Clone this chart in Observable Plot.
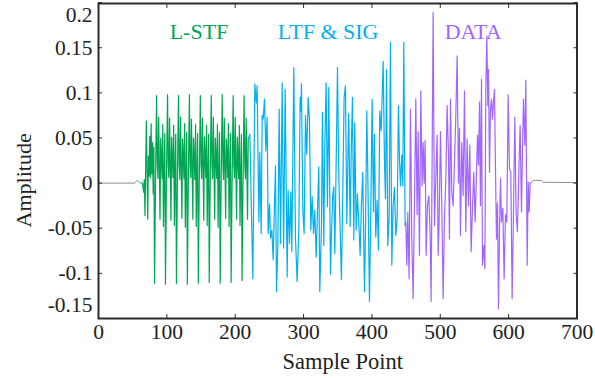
<!DOCTYPE html>
<html><head><meta charset="utf-8">
<script src="https://cdn.jsdelivr.net/npm/d3@7"></script>
<script src="https://cdn.jsdelivr.net/npm/@observablehq/plot@0.6"></script>
<style>
html,body{margin:0;padding:0;background:#fff;}
#chart{width:595px;height:379px;}
#chart svg, #chart svg text{font-family:"Liberation Serif","Times New Roman",serif !important;}
g[aria-label="seglabel"] text{letter-spacing:1.4px;}
</style></head><body><div id="chart"></div>
<script>
// Gray lead-in (sample, amplitude)
const leadX = [0, 53, 55, 57, 59, 61, 64];
const leadY = [0, 0, 0.002, 0.003, 0.002, 0, 0];

// L-STF, one value per sample starting at sample 64
const stfStart = 64;
const stfY = [
  0.000, -0.004, -0.010, 0.004, -0.036, 0.020, 0.069, 0.012, -0.040, 0.030, 0.008, 0.052, 0.006, 0.066, 0.010, 0.045, -0.012, 0.040,
  -0.111, -0.030, 0.040, 0.097, 0.020, 0.005, 0.073, 0.020, -0.040, 0.050, 0.030, 0.005, 0.065, -0.048, 0.010, 0.055,
  -0.112, -0.028, 0.042, 0.098, 0.018, 0.006, 0.072, 0.022, -0.041, 0.051, 0.028, 0.006, 0.064, -0.047, 0.012, 0.054,
  -0.111, -0.031, 0.039, 0.097, 0.021, 0.004, 0.073, 0.019, -0.039, 0.049, 0.031, 0.005, 0.066, -0.049, 0.009, 0.056,
  -0.112, -0.029, 0.041, 0.098, 0.019, 0.006, 0.071, 0.021, -0.040, 0.050, 0.029, 0.004, 0.065, -0.048, 0.011, 0.055,
  -0.111, -0.030, 0.040, 0.097, 0.020, 0.005, 0.072, 0.020, -0.041, 0.051, 0.030, 0.006, 0.064, -0.047, 0.010, 0.054,
  -0.110, -0.029, 0.041, 0.097, 0.019, 0.005, 0.073, 0.021, -0.040, 0.050, 0.029, 0.005, 0.065, -0.049, 0.011, 0.056,
  -0.111, -0.031, 0.040, 0.098, 0.021, 0.004, 0.072, 0.020, -0.039, 0.049, 0.031, 0.006, 0.066, -0.048, 0.010, 0.055,
  -0.110, -0.030, 0.039, 0.097, 0.020, 0.006, 0.073, 0.019, -0.040, 0.051, 0.030, 0.005, 0.064, -0.047, 0.009, 0.054,
  -0.108, -0.030, 0.040, 0.097, 0.020, 0.005, 0.072, 0.020, -0.040, 0.050
];

// LTF & SIG vertices
const ltfX = [219.9,221.4,225.8,228.7,230.7,232.1,234.6,236,238,239.4,240.9,242.8,244.8,246.7,248.2,250.2,251.6,253.6,255.5,257,258.9,260.4,262.4,264.3,266.3,268.7,270.8,273.1,276,277.4,279.4,281.3,282.8,285.7,288.1,290.6,293,295,295.9,296.9,298.9,300.8,302.8,304.7,306.7,308.6,310.6,312.5,314.5,316.4,318.4,320.3,322.3,323.7,326.2,327.6,329.6,331,333,334.9,336.9,339.4,340.8,342.7,344.2,345.7,347.6,349.6,351.5,354,355.4,357.4,359.3,361.3,363.2,365.2,366.1,368.1,369.6,371.5,373.5,374.9,376.9,378.8,380.8,382.7,384.7,386.6,389.1,390.5,392.5,393.9,396.4,398.3,400.3,402.2,403.7,405.6,407.6,409.5,411.5,413.5,416.4,418.4,419.8,421.3,423.2,425.2,427.1,429.1,431,433,434.9,436.9,438.8,440.3,441.8,443.7,445.2,446.6,448.6];
const ltfY = [0.051,0.054,-0.106,0.110,0.089,0.108,-0.043,0.034,-0.056,0.075,0.071,0.093,0.036,0.073,-0.056,-0.023,-0.061,-0.052,-0.085,-0.037,0.019,-0.120,-0.067,0.082,-0.067,0.111,-0.072,0.104,-0.104,-0.008,-0.067,-0.010,-0.076,0.128,-0.060,-0.109,-0.052,0.095,0.080,0.110,-0.030,-0.056,0.075,0.032,0.095,0.071,-0.052,-0.015,-0.056,-0.030,-0.082,-0.032,0.018,-0.120,-0.048,0.078,-0.069,0.040,0.111,-0.026,0.106,-0.101,-0.056,-0.014,-0.004,-0.078,0.018,0.128,0.010,-0.067,-0.107,-0.008,0.095,0.108,-0.045,0.044,0.077,-0.048,0.029,0.095,-0.063,0.067,-0.052,-0.012,-0.045,-0.080,-0.023,0.012,-0.120,-0.058,0.080,0.014,-0.131,-0.034,0.093,-0.032,0.054,-0.060,-0.019,-0.074,0.080,0.058,0.135,0.023,-0.017,0.126,-0.069,-0.039,0.156,-0.091,-0.025,-0.005,-0.058,-0.039,0.086,0.027,-0.003,0.031,-0.003,0.156,-0.047];

// DATA vertices
const dataX = [449.6,451,452.5,454.4,456.4,458.3,460.3,462.2,464.2,466.1,467.6,469.5,471.5,473.4,474.9,476.4,477.8,479.3,481.2,483.2,485.2,486.6,488.1,489.5,491.5,493.4,495.4,496.9,498.3,500.3,502.2,504.2,506.1,508.1,510,512,513.4,514.9,516.8,518.8,520.7,522.7,524.6,526.6,528.1,529.5,531.5,533.4,535.4,537.3,539.3,541.2,543.2,545.1,547.1,549,551,554.4,555.9,557.4,558.8,560.3,561.7,563.7,565.2,566.6,568.1,569.5,570.5,572,573.4,574.9,576.4,577.8,579.3,580.8,582.2,583.7,585.1,586.6,588.1,589.5,591.5,593.4,595.4,597.3,599.3,601.2,603.2,605.1,607.1,609,611,612.9,614.9,616.8,618.8,620.3,621.7,623.7,625.1,627.1,628.6,630,631.5];
const dataY = [-0.043,-0.091,-0.032,-0.106,0.082,-0.062,-0.128,-0.025,0.093,-0.035,0.057,-0.080,0.102,-0.003,0.045,0.0,0.047,-0.080,-0.025,-0.014,-0.058,-0.131,0.031,0.189,-0.047,0.005,0.053,-0.080,-0.043,0.057,-0.025,-0.128,-0.039,0.005,0.086,0.031,-0.062,0.093,-0.010,-0.025,0.020,0.075,0.141,0.0,0.061,-0.058,0.045,-0.014,0.102,-0.054,0.049,-0.025,0.042,-0.076,-0.028,0.012,-0.043,0.053,0.020,0.090,-0.025,0.115,-0.091,-0.069,-0.095,0.104,0.163,0.086,0.126,0.012,0.082,0.093,0.071,0.090,0.104,0.012,-0.062,-0.022,-0.139,-0.054,0.005,-0.043,-0.028,-0.106,-0.035,-0.043,0.098,0.016,0.012,-0.128,-0.032,0.073,-0.035,-0.054,0.012,0.064,-0.032,0.038,0.093,0.042,0.114,-0.091,0.001,-0.032,0.0];

// Gray tail
const tailX = [631.5, 634, 636, 648, 650.5, 700];
const tailY = [0, 0.001, 0.003, 0.003, 0.001, 0.0005];

const xTicks = [0, 100, 200, 300, 400, 500, 600, 700];
const yTicks = [-0.15, -0.1, -0.05, 0, 0.05, 0.1, 0.15, 0.2];
const segLabels = ["L-STF", "LTF & SIG", "DATA"];
const segLabelX = [147, 336, 548];
const segLabelY = [0.168, 0.168, 0.168];
const segColors = ["#00a651", "#00b0f0", "#a066ff"];
const leadColor = "#8c8c8c";
const yTitle = "Amplitude", yTitleAt = 0.003;
const xTitle = "Sample Point";

const lead = leadX.map((x, i) => ({x, y: leadY[i]}));
const stf = stfY.map((y, i) => ({x: stfStart + i, y}));
const ltf = [stf[stf.length - 1]].concat(ltfX.map((x, i) => ({x, y: ltfY[i]})));
const dat = [ltf[ltf.length - 1]].concat(dataX.map((x, i) => ({x, y: dataY[i]})));
const tail = tailX.map((x, i) => ({x, y: tailY[i]}));

const fmt = d => String(d);
const axCol = "#2b2b2b";
const txtCol = "#222";
const serif = "Liberation Serif";
const fs = 21.5;

const chart = Plot.plot({
  width: 595, height: 379,
  marginLeft: 98, marginRight: 18.5, marginTop: 3, marginBottom: 61,
  x: {domain: [0, 700], label: null},
  y: {domain: [-0.15, 0.199], label: null},
  style: {fontFamily: serif, background: "#fff", color: txtCol},
  marks: [
    Plot.line(lead, {x: "x", y: "y", stroke: leadColor, strokeWidth: 1}),
    Plot.line(tail, {x: "x", y: "y", stroke: leadColor, strokeWidth: 1}),
    Plot.line(stf, {x: "x", y: "y", stroke: segColors[0], strokeWidth: 1.2}),
    Plot.line(ltf, {x: "x", y: "y", stroke: segColors[1], strokeWidth: 1.2}),
    Plot.line(dat, {x: "x", y: "y", stroke: segColors[2], strokeWidth: 1.2}),
    Plot.frame({stroke: axCol, strokeWidth: 2}),
    Plot.axisX({anchor: "bottom", ticks: xTicks, tickSize: 4, insetBottom: 4, fill: "none", stroke: axCol, label: null}),
    Plot.axisX({anchor: "top", ticks: xTicks, tickSize: 4, insetTop: 4, fill: "none", stroke: axCol, label: null}),
    Plot.axisY({anchor: "left", ticks: yTicks, tickSize: 4, insetLeft: 4, fill: "none", stroke: axCol, label: null}),
    Plot.axisY({anchor: "right", ticks: yTicks, tickSize: 4, insetRight: 4, fill: "none", stroke: axCol, label: null}),
    Plot.axisX({anchor: "bottom", ticks: xTicks, tickSize: 0, tickPadding: 5, fontSize: fs, fontFamily: serif, tickFormat: fmt, fill: txtCol, label: null}),
    Plot.axisY({anchor: "left", ticks: yTicks.filter(t => t > -0.15 && t < 0.2), tickSize: 0, tickPadding: 6, fontSize: fs, fontFamily: serif, tickFormat: fmt, fill: txtCol, label: null}),
    Plot.axisY({anchor: "left", ticks: [0.2], tickSize: 0, tickPadding: 6, fontSize: fs, fontFamily: serif, tickFormat: fmt, fill: txtCol, dy: 12.9, label: null}),
    Plot.axisY({anchor: "left", ticks: [-0.15], tickSize: 0, tickPadding: 6, fontSize: fs, fontFamily: serif, tickFormat: fmt, fill: txtCol, dy: -13.7, label: null}),
    Plot.text([xTitle], {frameAnchor: "bottom", textAnchor: "middle", lineAnchor: "middle", dx: 5, dy: 43.5, fontSize: 22.5, fontFamily: serif, fill: txtCol}),
    Plot.text([yTitle], {y: () => yTitleAt, frameAnchor: "left", textAnchor: "middle", lineAnchor: "middle", rotate: -90, dx: -75, fontSize: 22, fontFamily: serif, fill: txtCol}),
    Plot.text(segLabels, {x: (d, i) => segLabelX[i], y: (d, i) => segLabelY[i], fill: (d, i) => segColors[i], fontSize: 22, fontFamily: serif, ariaLabel: "seglabel"})
  ]
});
document.getElementById("chart").appendChild(chart);
</script>
</body></html>
